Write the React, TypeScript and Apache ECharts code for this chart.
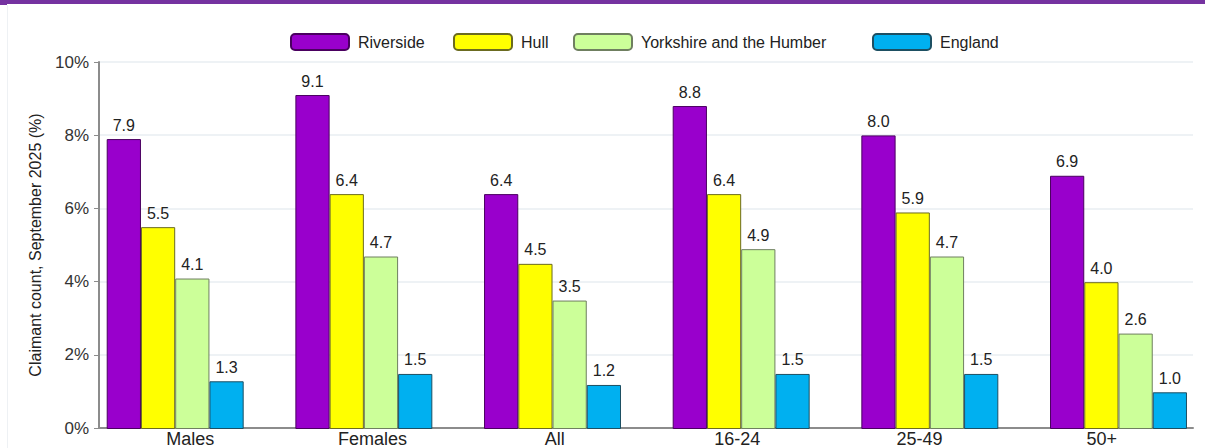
import React, { useEffect, useRef } from "react";
import * as echarts from "echarts";

const categories = ["Males", "Females", "All", "16-24", "25-49", "50+"];
const riverside = [7.9, 9.1, 6.4, 8.8, 8.0, 6.9];
const hull = [5.5, 6.4, 4.5, 6.4, 5.9, 4.0];
const yorkshire = [4.1, 4.7, 3.5, 4.9, 4.7, 2.6];
const england = [1.3, 1.5, 1.2, 1.5, 1.5, 1.0];
const seriesNames = ["Riverside", "Hull", "Yorkshire and the Humber", "England"];
const legendLefts = [290, 453, 573, 872];

export default function App() {
  const ref = useRef<HTMLDivElement>(null);
  useEffect(() => {
    document.body.style.margin = "0";
    const chart = echarts.init(ref.current!, null, { renderer: "svg" });
    const font = "Arial, 'Liberation Sans', sans-serif";
    const mk = (name: string, data: number[], color: string, border: string) => ({
      name,
      type: "bar",
      data,
      xAxisIndex: 1,
      yAxisIndex: 1,
      barGap: "0%",
      barCategoryGap: "27.4%",
      itemStyle: { color, borderColor: border, borderWidth: 1 },
      label: {
        show: true,
        position: "top",
        distance: 6,
        color: "#222",
        fontSize: 16,
        fontFamily: font,
        formatter: (p: any) => Number(p.value).toFixed(1),
      },
    });
    chart.setOption({
      animation: false,
      textStyle: { fontFamily: font },
      graphic: [
        { type: "rect", shape: { x: 0, y: 0, width: 1205, height: 4 }, style: { fill: "#7532a0" } },
        { type: "rect", shape: { x: 0, y: 0, width: 7, height: 5 }, style: { fill: "#7532a0" } },
        { type: "line", shape: { x1: 7.5, y1: 5, x2: 7.5, y2: 448 }, style: { stroke: "#eef1f4", lineWidth: 1 } },
      ],
      legend: seriesNames.map((n, i) => ({
        data: [n],
        left: legendLefts[i],
        top: 33,
        padding: 0,
        itemWidth: 58,
        itemHeight: 16,
        textStyle: { fontSize: 16, color: "#222", fontFamily: font, padding: [0, 0, 0, 4] },
      })),
      grid: [
        { left: 99, right: 12, top: 62, bottom: 19 },
        { left: 175.2, width: 943.3, top: 62, bottom: 19 },
      ],
      xAxis: [
        {
          type: "category",
          gridIndex: 0,
          data: categories,
          axisLine: { lineStyle: { color: "#8c8c8c", width: 2 } },
          axisTick: { show: false },
          axisLabel: { fontSize: 18, color: "#222", margin: 2, fontFamily: font },
        },
        {
          type: "category",
          gridIndex: 1,
          data: categories,
          boundaryGap: false,
          show: false,
        },
      ],
      yAxis: [
        {
          type: "value",
          gridIndex: 0,
          min: 0,
          max: 10,
          interval: 2,
          name: "Claimant count, September 2025 (%)",
          nameLocation: "middle",
          nameGap: 56,
          nameTextStyle: { fontSize: 16, color: "#222", fontFamily: font },
          axisLine: { show: true, lineStyle: { color: "#8c8c8c", width: 2 } },
          axisTick: { show: true, length: 5, lineStyle: { color: "#8c8c8c" } },
          axisLabel: { fontSize: 17, color: "#333", margin: 10, formatter: "{value}%", fontFamily: font },
          splitLine: { lineStyle: { color: "#eef2f5", width: 2 } },
        },
        {
          type: "value",
          gridIndex: 1,
          min: 0,
          max: 10,
          interval: 2,
          show: false,
          splitLine: { show: false },
        },
      ],
      series: [
        mk(seriesNames[0], riverside, "#9900cc", "#4a0060"),
        mk(seriesNames[1], hull, "#ffff00", "#6b6b20"),
        mk(seriesNames[2], yorkshire, "#ccff99", "#6f7f60"),
        mk(seriesNames[3], england, "#00b0f0", "#1d4f62"),
      ],
    });
    return () => chart.dispose();
  }, []);
  return <div ref={ref} style={{ width: 1205, height: 448 }} />;
}
